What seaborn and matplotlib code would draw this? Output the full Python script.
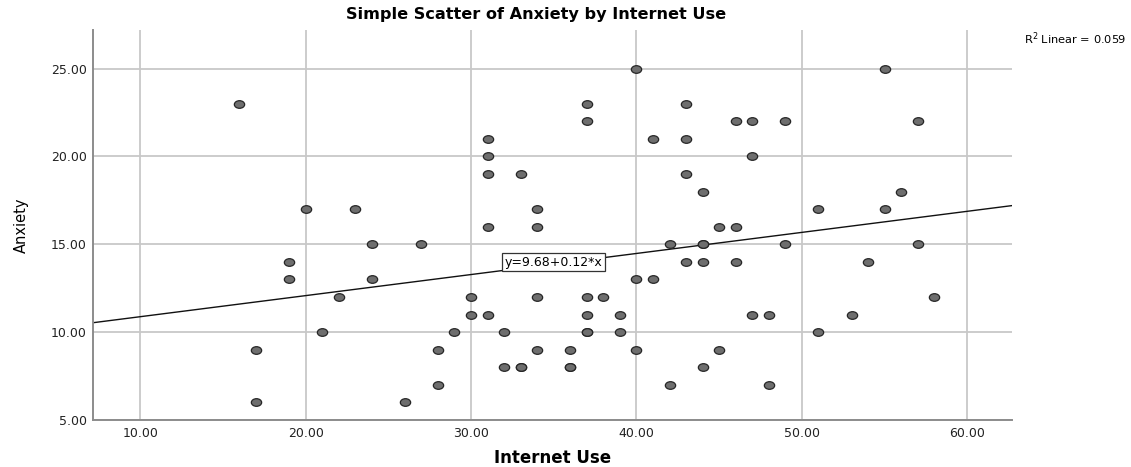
import numpy as np
import pandas as pd
import matplotlib
matplotlib.use("Agg")
import matplotlib.pyplot as plt
import seaborn as sns
from matplotlib.path import Path

# Survey scores: hours of internet use against anxiety score
internet_use = [16, 20, 23, 24, 19, 19, 24, 22, 21, 17, 17,
                40, 37, 37, 31, 41, 31, 31, 33, 34, 34, 31, 27, 42, 40, 41,
                30, 34, 37, 38, 30, 31, 37, 39, 29, 32, 37, 37, 39,
                28, 34, 36, 40, 32, 33, 33, 36, 36, 28, 42, 26,
                55, 43, 46, 47, 49, 57, 43, 47, 43, 44, 56, 51, 55, 45, 46,
                44, 44, 49, 57, 43, 44, 46, 54, 58, 47, 48, 53, 51, 45, 44, 48]
anxiety = [23, 17, 17, 15, 14, 13, 13, 12, 10, 9, 6,
           25, 23, 22, 21, 21, 20, 19, 19, 17, 16, 16, 15, 15, 13, 13,
           12, 12, 12, 12, 11, 11, 11, 11, 10, 10, 10, 10, 10,
           9, 9, 9, 9, 8, 8, 8, 8, 8, 7, 7, 6,
           25, 23, 22, 22, 22, 22, 21, 20, 19, 18, 18, 17, 17, 16, 16,
           15, 15, 15, 15, 14, 14, 14, 14, 12, 11, 11, 11, 10, 9, 8, 7]

fit_intercept = 9.68
fit_slope = 0.12
r_squared = 0.059

x_ticks = [10, 20, 30, 40, 50, 60]
y_ticks = [5, 10, 15, 20, 25]

df = pd.DataFrame({"Internet Use": internet_use, "Anxiety": anxiety})

sns.set_theme(style="white")
plt.rcParams["font.family"] = ["DejaVu Sans"]
plt.rcParams["text.color"] = "black"
plt.rcParams["axes.labelcolor"] = "black"

fig = plt.figure(figsize=(11.31, 4.67), dpi=100)
ax = fig.add_axes([0.0822, 0.1006, 0.8126, 0.8352])

xmin, xmax = 7.15, 62.7
ymin, ymax = 5.0, 27.2

# grid
ax.set_axisbelow(True)
ax.grid(True, color="#c8c8c8", linewidth=1.3)

# fit line across the full x range
line_x = np.array([xmin, xmax])
line_df = pd.DataFrame({"x": line_x, "y": fit_intercept + fit_slope * line_x})
sns.lineplot(data=line_df, x="x", y="y", ax=ax, color="#111111", linewidth=1.0)

# slightly wide elliptical markers
circ = Path.unit_circle()
ellipse = Path(circ.vertices * np.array([1.35, 1.0]), circ.codes)
sns.scatterplot(data=df, x="Internet Use", y="Anxiety", ax=ax, marker=ellipse,
                s=55, color="#6e6e6e", edgecolor="#262626", linewidth=0.9,
                zorder=3)

ax.set_xlim(xmin, xmax)
ax.set_ylim(ymin, ymax)
ax.set_xticks(x_ticks)
ax.set_yticks(y_ticks)
ax.set_xticklabels([f"{v:.2f}" for v in x_ticks], fontsize=9)
ax.set_yticklabels([f"{v:.2f}" for v in y_ticks], fontsize=9)
ax.tick_params(axis="y", length=0, pad=4.5, colors="#222222")
ax.tick_params(axis="x", length=0, pad=5, colors="#222222")

for side in ["top", "right"]:
    ax.spines[side].set_visible(False)
for side in ["left", "bottom"]:
    ax.spines[side].set_color("#8c8c8c")
    ax.spines[side].set_linewidth(1.4)

ax.set_xlabel("Internet Use", fontsize=12, fontweight="bold", va="center")
ax.xaxis.set_label_coords(0.5, -0.097)
ax.set_ylabel("Anxiety", fontsize=10.5, va="center", ha="center")
ax.yaxis.set_label_coords(-0.078, 0.5)

fig.text(0.4744, 0.969, "Simple Scatter of Anxiety by Internet Use",
         ha="center", va="center", fontsize=11.6, fontweight="bold")
fig.text(0.996, 0.917, f"R$^2$ Linear = {r_squared:.3f}", ha="right",
         va="center", fontsize=8.2)

ax.text(35.0, 13.97, f"y={fit_intercept:.2f}+{fit_slope:.2f}*x",
        ha="center", va="center", fontsize=9, zorder=4,
        bbox=dict(boxstyle="square,pad=0.2", facecolor="white",
                  edgecolor="#333333", linewidth=0.9))

fig.savefig("out.png", dpi=100)
